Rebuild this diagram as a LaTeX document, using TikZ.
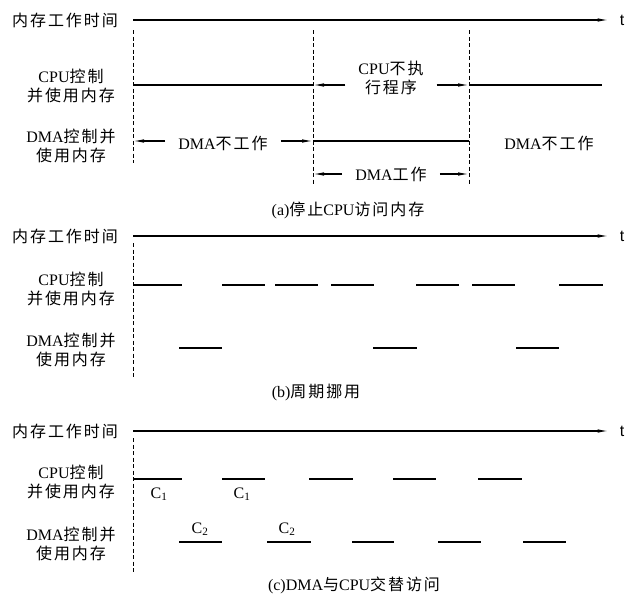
\documentclass[tikz,border=0pt]{standalone}
\usepackage{fontspec}
\setmainfont{Liberation Serif}
\setsansfont{Liberation Sans}
\newfontfamily\zh{Noto Sans CJK SC}[LetterSpace=12]
\usepackage{tikz}
\usetikzlibrary{arrows.meta}

\newcommand\lbl{\fontsize{16}{19}\selectfont}

\begin{document}
\begin{tikzpicture}[
    x=1pt, y=-1pt,
    axis/.style={-{Latex[length=11pt, width=3.5pt]}, line width=1.1pt},
    bar/.style={line width=1.1pt},
    guide/.style={dash pattern=on 4pt off 2.5pt, line width=0.9pt},
    arrow/.style={-{Latex[length=11pt, width=3.5pt]}, line width=1.1pt},
    rowlabel/.style={font=\lbl, align=center},
    axislabel/.style={font=\lbl, anchor=east, inner sep=0pt},
    tlabel/.style={font=\lbl\sffamily, inner sep=0pt},
    span/.style={font=\lbl, align=center, inner xsep=13pt, inner ysep=0pt},
    caption/.style={font=\lbl},
    cname/.style={font=\lbl, inner sep=0pt}
]
\useasboundingbox (0,0) rectangle (641,600);

% (a) stop CPU access
\node[axislabel] (atime) at (118,20) {{\zh 内存工作时间}};
\node[tlabel] (at) at (622,20) {t};
\coordinate (a0) at (133,20);
\draw[axis, shorten >=11pt] (a0) -- (at);

\coordinate (p0) at (133,30);
\coordinate (p1) at (313,30);
\coordinate (p2) at (469,30);
\draw[guide] (p0) -- ++(0,133);
\draw[guide] (p1) -- ++(0,155);
\draw[guide] (p2) -- ++(0,155);

\node[rowlabel] (acpu) at (71,86) {CPU{\zh 控制}\\{\zh 并使用内存}};
\node[rowlabel] (adma) at (71,146) {DMA{\zh 控制并}\\{\zh 使用内存}};

\coordinate (ac) at (133,85);
\coordinate (ace) at (602,85);
\node[span] (idle) at (391,78) {CPU{\zh 不执}\\{\zh 行程序}};
\draw[bar] (ac) -- (ac -| p1);
\draw[arrow] (idle.west |- ac) -- (p1 |- ac);
\draw[arrow] (idle.east |- ac) -- (p2 |- ac);
\draw[bar] (p2 |- ac) -- (ace);

\coordinate (ad) at (133,141);
\node[span] (off1) at (223,143) {DMA{\zh 不工作}};
\node[span] (off2) at (549,143) {DMA{\zh 不工作}};
\draw[arrow] (off1.west |- ad) -- (ad);
\draw[arrow] (off1.east |- ad) -- (p1 |- ad);
\draw[bar] (p1 |- ad) -- (p2 |- ad);

\node[span] (work) at (391,174) {DMA{\zh 工作}};
\draw[arrow] (work.west) -- (p1 |- work);
\draw[arrow] (work.east) -- (p2 |- work);

\node[caption] (capa) at (348,210) {(a){\zh 停止}CPU{\zh 访问内存}};

% (b) cycle stealing
\node[axislabel] (btime) at (118,236) {{\zh 内存工作时间}};
\node[tlabel] (bt) at (622,236) {t};
\coordinate (b0) at (133,236);
\draw[axis, shorten >=11pt] (b0) -- (bt);
\draw[guide] (133,243) -- (133,378);

\node[rowlabel] (bcpu) at (71,289) {CPU{\zh 控制}\\{\zh 并使用内存}};
\node[rowlabel] (bdma) at (71,350) {DMA{\zh 控制并}\\{\zh 使用内存}};

\foreach \a/\b in {133/182, 222/265, 275/318, 331/374, 416/459, 472/515, 559/603}
    \draw[bar] (\a,285) -- (\b,285);
\foreach \a/\b in {179/222, 373/417, 516/559}
    \draw[bar] (\a,348) -- (\b,348);

\node[caption] (capb) at (316,392) {(b){\zh 周期挪用}};

% (c) alternating access
\node[axislabel] (ctime) at (118,431) {{\zh 内存工作时间}};
\node[tlabel] (ct) at (622,431) {t};
\coordinate (c0) at (133,431);
\draw[axis, shorten >=11pt] (c0) -- (ct);
\draw[guide] (133,438) -- (133,573);

\node[rowlabel] (ccpu) at (71,482) {CPU{\zh 控制}\\{\zh 并使用内存}};
\node[rowlabel] (cdma) at (71,544) {DMA{\zh 控制并}\\{\zh 使用内存}};

\foreach \a/\b in {133/182, 222/265, 309/353, 393/436, 478/522}
    \draw[bar] (\a,479) -- (\b,479);
\foreach \a/\b in {179/222, 267/311, 352/394, 438/481, 523/566}
    \draw[bar] (\a,542) -- (\b,542);

\node[cname] (c1a) at (159,494) {C\textsubscript{1}};
\node[cname] (c1b) at (242,494) {C\textsubscript{1}};
\node[cname] (c2a) at (200,529) {C\textsubscript{2}};
\node[cname] (c2b) at (287,529) {C\textsubscript{2}};

\node[caption] (capc) at (354,585) {(c)DMA{\zh 与}CPU{\zh 交替访问}};

\end{tikzpicture}
\end{document}
